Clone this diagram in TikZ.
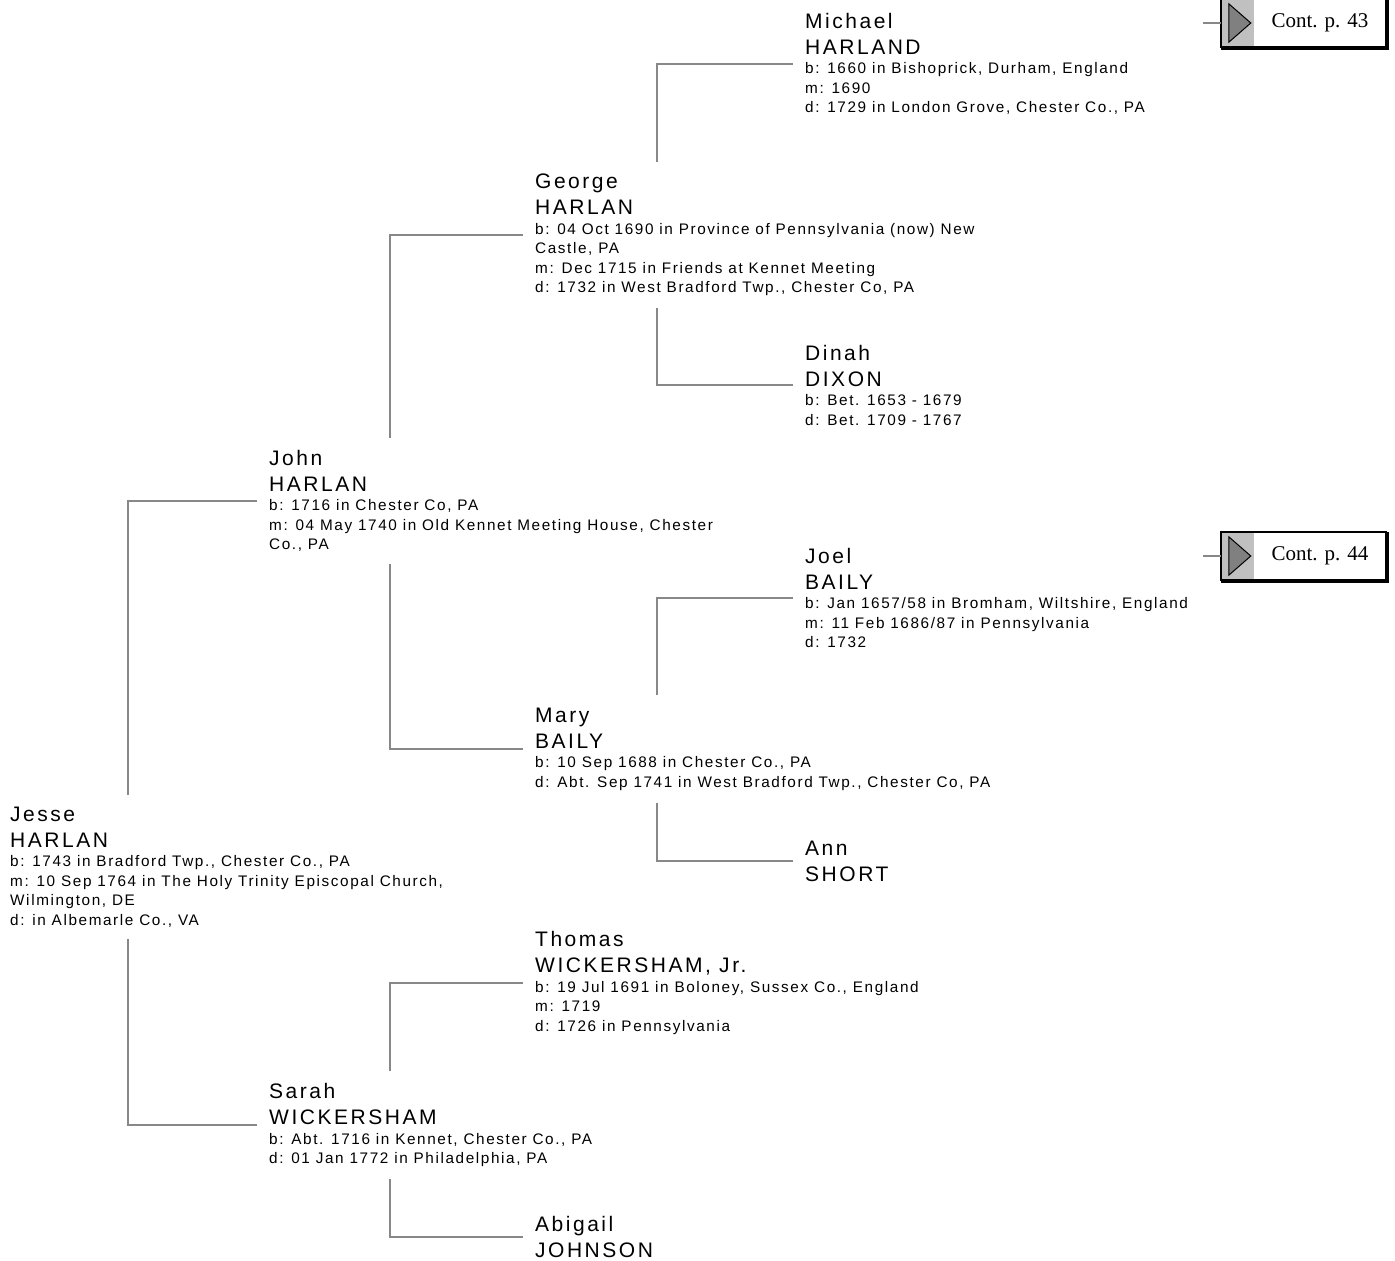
\documentclass[tikz,border=0pt]{standalone}
\usepackage{fontspec}
\usetikzlibrary{calc, positioning}
\newfontfamily\chartfont{Liberation Sans}[LetterSpace=12]
\newfontfamily\infofam{Liberation Sans}[LetterSpace=10.5]
\newfontfamily\contserif{Liberation Serif}
\newcommand{\namefont}{\chartfont\fontsize{21pt}{26pt}\selectfont}
\newcommand{\infofont}{\infofam\fontsize{15.3pt}{19.5pt}\selectfont}
% first name and surname, one per line
\newcommand{\pname}[2]{{\namefont #1}\\[6.5pt]{\namefont #2}}
\definecolor{linegray}{HTML}{888888}
\definecolor{tabgray}{HTML}{C0C0C0}
\definecolor{arrowgray}{HTML}{808080}
\tikzset{
  % person entry
  person/.style={anchor=west, align=left, inner sep=12pt, font=\infofont},
  % pedigree line
  link/.style={draw=linegray, line width=2pt},
  % continuation box
  contbox/.style={minimum width=132pt, minimum height=48pt, inner sep=0pt,
    font=\contserif\fontsize{21pt}{24pt}\selectfont},
}
\begin{document}
\begin{tikzpicture}[x=1pt, y=-1pt]
  \useasboundingbox (0,0) rectangle (1395,1261);

  % persons
  \node[person] (jesse) at (-2,867) {\pname{Jesse}{HARLAN}\\
    b: 1743 in Bradford Twp., Chester Co., PA\\
    m: 10 Sep 1764 in The Holy Trinity Episcopal Church,\\
    Wilmington, DE\\
    d: in Albemarle Co., VA};

  \node[person] (john) at (257,501) {\pname{John}{HARLAN}\\
    b: 1716 in Chester Co, PA\\
    m: 04 May 1740 in Old Kennet Meeting House, Chester\\
    Co., PA};
  \node[person] (sarah) at (257,1125) {\pname{Sarah}{WICKERSHAM}\\
    b: Abt. 1716 in Kennet, Chester Co., PA\\
    d: 01 Jan 1772 in Philadelphia, PA};

  \node[person] (george) at (523,235) {\pname{George}{HARLAN}\\
    b: 04 Oct 1690 in Province of Pennsylvania (now) New\\
    Castle, PA\\
    m: Dec 1715 in Friends at Kennet Meeting\\
    d: 1732 in West Bradford Twp., Chester Co, PA};
  \node[person] (mary) at (523,749) {\pname{Mary}{BAILY}\\
    b: 10 Sep 1688 in Chester Co., PA\\
    d: Abt. Sep 1741 in West Bradford Twp., Chester Co, PA};
  \node[person] (thomas) at (523,983) {\pname{Thomas}{WICKERSHAM, Jr.}\\
    b: 19 Jul 1691 in Boloney, Sussex Co., England\\
    m: 1719\\
    d: 1726 in Pennsylvania};
  \node[person] (abigail) at (523,1237) {\pname{Abigail}{JOHNSON}};

  \node[person] (michael) at (793,64) {\pname{Michael}{HARLAND}\\
    b: 1660 in Bishoprick, Durham, England\\
    m: 1690\\
    d: 1729 in London Grove, Chester Co., PA};
  \node[person] (dinah) at (793,385) {\pname{Dinah}{DIXON}\\
    b: Bet. 1653 - 1679\\
    d: Bet. 1709 - 1767};
  \node[person] (joel) at (793,598) {\pname{Joel}{BAILY}\\
    b: Jan 1657/58 in Bromham, Wiltshire, England\\
    m: 11 Feb 1686/87 in Pennsylvania\\
    d: 1732};
  \node[person] (ann) at (793,861) {\pname{Ann}{SHORT}};

  % father up, mother down
  \draw[link] ([xshift=130pt]jesse.north west) |- (john.west);
  \draw[link] ([xshift=130pt]jesse.south west) |- (sarah.west);
  \draw[link] ([xshift=133pt]john.north west) |- (george.west);
  \draw[link] ([xshift=133pt]john.south west) |- (mary.west);
  \draw[link] ([xshift=133pt]sarah.north west) |- (thomas.west);
  \draw[link] ([xshift=133pt]sarah.south west) |- (abigail.west);
  \draw[link] ([xshift=134pt]george.north west) |- (michael.west);
  \draw[link] ([xshift=134pt]george.south west) |- (dinah.west);
  \draw[link] ([xshift=134pt]mary.north west) |- (joel.west);
  \draw[link] ([xshift=134pt]mary.south west) |- (ann.west);

  % continuation boxes
  \foreach \pg/\yy in {43/23, 44/556} {
    \node[contbox] (c\pg) at (1320,\yy) {Cont. p. \pg};
    \fill[tabgray] ([xshift=-33pt]c\pg.north west) rectangle (c\pg.south west);
    \filldraw[fill=arrowgray, line width=1pt]
      ([xshift=-25pt,yshift=-5pt]c\pg.north west) --
      ([xshift=-25pt,yshift=5pt]c\pg.south west) --
      ([xshift=-3pt]c\pg.west) -- cycle;
    \draw[line width=1.5pt] ([xshift=-33pt]c\pg.north west) rectangle (c\pg.south east);
    \draw[line width=3pt] ([xshift=-33pt,yshift=-1pt]c\pg.south west) --
      ([xshift=1pt,yshift=-1pt]c\pg.south east) -- ([xshift=1pt]c\pg.north east);
    \coordinate (s\pg) at (1203,\yy);
    \draw[link] (s\pg) -- ([xshift=-33pt]c\pg.west);
  }
\end{tikzpicture}
\end{document}
